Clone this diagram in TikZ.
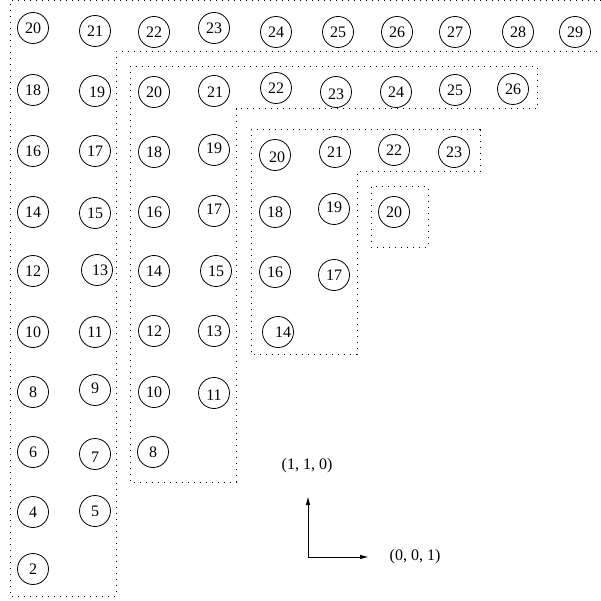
\documentclass[tikz,border=0pt]{standalone}
\usepackage{fontspec}
\setmainfont{Liberation Serif}
\usetikzlibrary{arrows.meta}
\begin{document}
\begin{tikzpicture}[x=1pt,y=-1pt,
  circ/.style={draw,circle,line width=0.8pt,minimum size=31pt,inner sep=0pt,font=\fontsize{16}{19}\selectfont},
  lab/.style={font=\fontsize{16}{19}\selectfont,inner sep=0pt},
  dots/.style={line width=1pt,dash pattern=on 1.1pt off 4.9pt},
  axis/.style={line width=1pt,-{Latex[length=9pt,width=4.5pt]}}]
\useasboundingbox (0,0) rectangle (601,601);
% dotted regions
\draw[dots] (601,1) -- (10,1) -- (10,596) -- (116,596) -- (116,52) -- (601,52);
\draw[dots] (130,67) -- (537,67) -- (537,109) -- (236,109) -- (236,482) -- (130,482) -- cycle;
\draw[dots] (251,130) -- (480,130) -- (480,172) -- (357,172) -- (357,354) -- (251,354) -- cycle;
\draw[dots] (371,187) rectangle (428,247);
% outer L
\node[circ] (a20) at (33,28) {20};
\node[circ] (a21) at (95,31) {21};
\node[circ] (a22) at (154,32) {22};
\node[circ] (a23) at (214,28) {23};
\node[circ] (a24) at (276,32) {24};
\node[circ] (a25) at (338,32) {25};
\node[circ] (a26) at (397,32) {26};
\node[circ] (a27) at (455,32) {27};
\node[circ] (a28) at (518,32) {28};
\node[circ] (a29) at (575,32) {29};
\node[circ] (a18) at (33,90) {18};
\node[circ,label={[lab,xshift=2pt,yshift=-1pt]center:19}] (a19) at (95,91) {};
\node[circ] (a16) at (33,151) {16};
\node[circ] (a17) at (95,151) {17};
\node[circ] (a14) at (33,212) {14};
\node[circ] (a15) at (95,213) {15};
\node[circ] (a12) at (33,271) {12};
\node[circ,label={[lab,xshift=3pt]center:13}] (a13) at (97,270) {};
\node[circ] (a10) at (33,332) {10};
\node[circ] (a11) at (95,332) {11};
\node[circ] (a8) at (33,392) {8};
\node[circ,label={[lab,yshift=2pt]center:9}] (a9) at (95,390) {};
\node[circ] (a6) at (33,452) {6};
\node[circ,label={[lab,yshift=-3pt]center:7}] (a7) at (95,454) {};
\node[circ] (a4) at (33,512) {4};
\node[circ] (a5) at (95,511) {5};
\node[circ] (a2) at (33,569) {2};
% second L
\node[circ] (b20) at (154,92) {20};
\node[circ,label={[lab,xshift=1pt,yshift=-1pt]center:21}] (b21) at (214,91) {};
\node[circ] (b22) at (276,88) {22};
\node[circ,label={[lab,yshift=-2pt]center:23}] (b23) at (336,92) {};
\node[circ] (b24) at (396,92) {24};
\node[circ] (b25) at (455,90) {25};
\node[circ] (b26) at (513,89) {26};
\node[circ] (b18) at (154,152) {18};
\node[circ,label={[lab,yshift=2pt]center:19}] (b19) at (214,150) {};
\node[circ] (b16) at (154,212) {16};
\node[circ,label={[lab,yshift=2pt]center:17}] (b17) at (214,211) {};
\node[circ] (b14) at (154,271) {14};
\node[circ] (b15) at (216,271) {15};
\node[circ] (b12) at (154,331) {12};
\node[circ] (b13) at (214,331) {13};
\node[circ] (b10) at (154,392) {10};
\node[circ,label={[lab,yshift=-2pt]center:11}] (b11) at (214,393) {};
\node[circ] (b8) at (153,452) {8};
% third L
\node[circ,label={[lab,xshift=2pt,yshift=-2pt]center:20}] (c20) at (275,155) {};
\node[circ] (c21) at (335,152) {21};
\node[circ] (c22) at (394,150) {22};
\node[circ] (c23) at (454,152) {23};
\node[circ] (c18) at (275,212) {18};
\node[circ,label={[lab,yshift=2pt]center:19}] (c19) at (334,209) {};
\node[circ] (c16) at (275,272) {16};
\node[circ] (c17) at (334,275) {17};
\node[circ,label={[lab,xshift=5pt]center:14}] (c14) at (278,332) {};
% fourth
\node[circ] (d20) at (394,212) {20};
% axes
\coordinate (o) at (308,557);
\coordinate (up) at (308,496);
\coordinate (rt) at (369,557);
\draw[axis] (o) -- (up);
\draw[axis] (o) -- (rt);
\node[lab] (l110) at (307,466) {(1, 1, 0)};
\node[lab] (l001) at (415,557) {(0, 0, 1)};
\end{tikzpicture}
\end{document}
